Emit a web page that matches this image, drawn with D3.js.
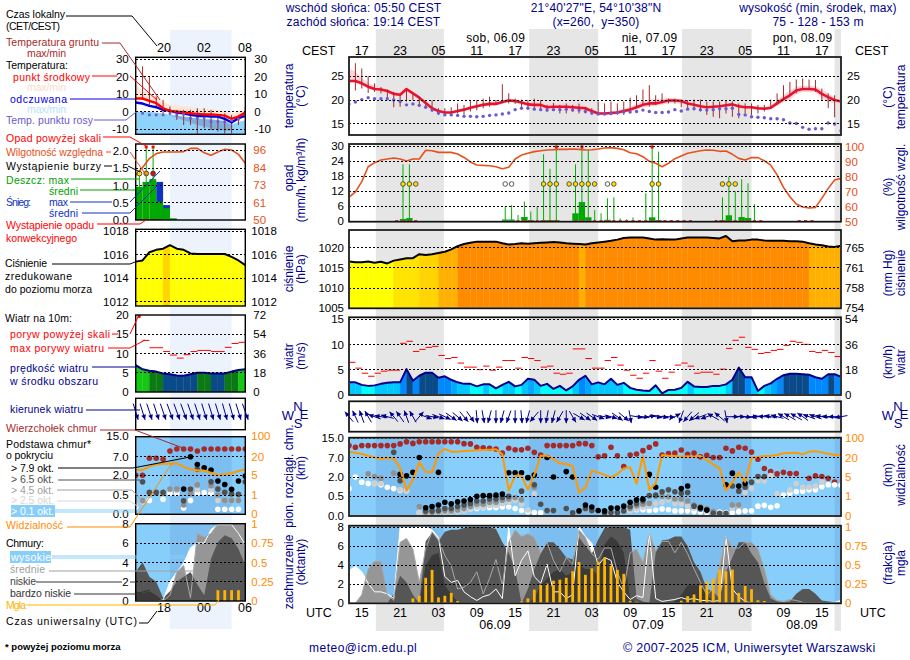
<!DOCTYPE html>
<html>
<head>
<meta charset="utf-8">
<script src="https://cdn.jsdelivr.net/npm/d3@7"></script>
<style>
  body { margin: 0; background: #fff; }
  text { font-family: "Liberation Sans", Arial, sans-serif; }
  .tick text { font-size: 11.5px; }
</style>
</head>
<body>
<script>
// hours counted from 05.09 15 UTC
var hours = d3.range(-2, 76)
var miniHours = d3.range(-1, 16)

var localTicks = ["17","23","05","11","17","23","05","11","17","23","05","11","17"]
var utcTicks = ["15","21","03","09","15","21","03","09","15","21","03","09","15"]
var nightStart = [2.2, 26.2, 50.1, 74]
var nightEnd = [12.85, 37, 61, 75]

// --- temperature
var tempMid = [24,24,23.5,22.8,22.3,22.2,21.9,21.3,21.1,22.3,
  21.4,20.5,19.4,18.3,17.7,17.4,17.4,17.7,18,18.4,
  18.7,19,19.2,19.2,19.6,19.9,19.8,19.5,19.1,19,
  19,18.5,18.6,18.6,18.6,18.5,18.4,18.3,17.7,17.2,
  17.2,17.3,17.4,17.7,18,18.5,19,19.3,19.3,19.6,
  19.9,19.9,19.8,19.3,19,18.7,18.5,18.6,18.7,18.9,
  19.1,18.7,18.5,18.5,18.3,18.2,18.4,19.3,20.2,21,
  22,22.3,22.3,22.2,21.3,20.6,20,19.7]
var tempHigh = [26.6,25.9,24.6,23.6,23.1,22.8,22.3,21.8,21.5,22.7,
  21.7,20.8,19.7,18.6,17.9,17.6,17.6,17.9,18.3,18.7,
  19,19.4,19.6,19.6,20,20.3,20.2,19.9,19.6,19.6,
  19.6,19.2,19.3,19.4,19.4,19.3,19.2,19,18.2,17.5,
  17.5,17.6,17.8,18.2,18.5,19.2,19.8,20.1,20.2,20.3,
  20.5,20.4,20.2,19.7,19.3,19,18.8,18.9,19,19.2,
  19.4,19,18.8,18.7,18.5,18.5,18.8,20,21.1,22,
  22.8,23,23,22.9,22.2,21.4,20.6,20.1]
var tempLow = [23.8,23.6,23.1,22.4,22,21.9,21.6,21,20.8,21.8,
  21.1,20.2,19.1,18,17.4,17.1,17.1,17.4,17.7,18.1,
  18.4,18.7,18.9,18.9,19.3,19.6,19.4,19.1,18.6,18.4,
  18.3,17.9,17.9,17.8,17.8,17.8,17.7,17.5,17.2,16.9,
  16.9,17,17.1,17.4,17.6,18,18.4,18.7,18.7,19,
  19.3,19.3,19.3,18.9,18.6,18.3,18.1,18.2,18.3,18.5,
  18.7,18.3,18.1,18.1,18,17.9,18,18.8,19.5,20,
  21.2,21.7,21.7,21.6,20.4,19.6,19.4,19.2]
var soilHigh = [null,27.7,26.6,25,23.5,22.7,22.2,21.7,21,22.1,
  21.2,20.7,20,19.9,18.3,18.3,18.5,19.3,19,19.9,
  20,20.3,20.7,20,23.3,21.4,20.3,20.1,20,20.3,
  20,19,19.4,19,19.3,19,19.3,18.6,18.3,19.7,
  19.3,19.7,19.3,19.7,20.5,21,22.2,23.1,21,21.4,
  20.3,20.3,20.1,20,20.1,20.1,19.7,19.7,19.7,20,
  19.7,19.3,19.3,19.3,19,19,20.1,21.4,23.1,23.8,
  24.3,24.5,24.3,24.2,22.4,21.4,21,20.7]
var soilLow = [null,22,22.4,21.5,21.7,21.4,20,18.5,18.6,19.7,
  20,18.6,18.3,17.6,16.9,16.9,16.9,17.2,16.9,17.6,
  17.9,18.3,18.6,19.3,19.3,19.3,19.2,18.6,18.3,18.3,
  18.3,17.6,18,17.2,17.2,17.6,17.2,17.2,16.9,16.9,
  16.9,16.9,16.9,16.9,17.9,18.3,19,18.6,19,19.3,
  19.3,19.3,18.5,18.3,17.9,17.6,16.9,16.5,16.2,17.2,
  16.5,16.2,17.2,16.9,17.2,17.6,18.3,19,20,21,
  21.4,22.1,22.1,21.7,20,18.3,16.4,20]
var dewPoint = [19.2,19.6,20.1,20.5,20.3,20.3,20.3,20,19.7,19,
  19.2,18.9,18.5,17.9,17.3,16.9,16.9,16.8,16.6,16.6,
  16.5,16.6,16.8,16.9,17.1,17.3,18,18.3,18.3,18.1,
  18,17.9,18,18,18.1,17.9,17.9,17.6,17.3,17.1,
  17.1,17.2,17.4,17.5,17.5,17.6,17.9,17.6,17.4,17.4,
  17.5,18,17.7,18.1,18.2,18,17.9,18,18.2,18.2,
  18.3,17,16.9,16.5,16.4,16.3,16.1,16.1,15.9,15.2,
  15.1,14.3,13.9,14,14,15.2,15,13.6]

// --- precipitation
var humidity = [66.3,70,76.8,86.8,89.5,91.3,92,92.6,92,90.6,
  92,92,97.8,97.5,96.4,96.4,96.4,95.3,93,90,
  88,87.7,87.5,86.8,85.5,86.4,92,94.6,95.8,96.9,
  97.5,98,98.2,98.4,98.4,98.7,98.4,98,98.2,98.7,
  99.3,99.6,99.1,98.2,96.2,95.5,93.5,90.4,89.1,86.8,
  89.1,92.2,94,95.8,96.7,97.5,98,97.8,97.1,97.3,
  95.1,92.4,91.3,92.9,92.9,90.8,87.9,81.3,73,66.7,
  61.8,59.8,59.2,59.6,65.6,72.3,77.9,79]
var rainMaxHours = [6,7,22,23,24,25,26,27,28,29,33,35,36,37,38,39,40,41,42,44,46,56,57,58,59,60,61]
var rainMax = [22.8,22.8,5.9,6.5,2.5,7.9,3.9,5.9,26.8,21,22.8,28.5,4.5,3.2,9.2,9.6,1.2,0.8,1.6,11.2,27.9,9.6,17.9,11.9,16.8,15.2,6.9]
var rainMeanHours = [6,7,22,23,25,26,28,29,30,33,34,35,38,45,46,56,57,59,60]
var rainMean = [0.9,1.3,0.7,0.7,1.7,0.5,0.5,0.5,0.5,3.2,7.7,1.6,0.6,1.6,0.5,0.5,2.4,1.7,1.3]
var rainOverHours = [30, 34, 45]
var convectiveHours = [5,6,7,8,24,25,26,27,28,29,30,33,34,35,36,37,38,39,40,41,42,43,44,45,46,47,48,49,50,51,55,56,57,58,59,60,61,62,68,69,70]
var stormHours = [6,7,8,28,29,30,32,33,34,35,36,39,45,46,56,57,58]
var stormWeakHours = [22,23,38]

// --- pressure
var pressure = [1016.6,1016.4,1016.4,1016.6,1016.3,1016.5,1016.1,1016.8,1017.1,1017.4,
  1017.4,1018.4,1018.2,1018.4,1018.7,1019,1019.6,1020.4,1020.9,1021.2,
  1021.5,1021.5,1021.5,1021.5,1021.1,1020.8,1020.9,1021.1,1021,1021.1,
  1021.2,1021.3,1021.4,1021.3,1021.1,1021,1020.9,1020.8,1021.1,1021.3,
  1021.5,1021.7,1022,1022.4,1022.5,1022.5,1022.5,1022.3,1022,1022.1,
  1022,1022,1022.3,1022.5,1022.5,1022.5,1022.5,1022.4,1022.3,1022.9,
  1021.6,1021.8,1021.8,1022,1022,1021.8,1021.7,1021.7,1021.7,1021.6,
  1021.6,1021.5,1021.1,1020.8,1020.6,1020.3,1020.2,1020.5]
var pressureClass = [0,0,0,0,0,0,0,1,1,1, 1,2,2,2,3,3,3,4,4,4,
  4,4,4,4,4,4,4,4,4,4, 4,4,4,4,4,4,3,4,4,4,
  4,4,4,4,4,4,4,4,4,4, 4,4,4,4,4,4,4,4,4,4,
  4,4,4,4,4,4,4,4,4,4, 4,4,3,3,3,3,3]

// --- wind
var windSpeed = [2.5,2.5,2,1.8,1.9,2.2,2.4,2.5,2.5,5.1,
  2.8,3.8,4.4,4.4,3.4,3.7,3,2.5,2.2,2.2,
  1.7,2.1,2.1,1.3,2,2.6,1.7,2,3.2,3,
  1.8,2.2,1.2,1.8,0.9,1.7,3,3.8,2.1,2.5,
  2.1,3.2,2,2.4,1.4,1.05,0.9,0.8,1.9,0.3,
  1,1.05,1.4,2.6,1.7,1.6,1.6,1.8,1.8,2.1,
  3,5.4,3.5,3.5,0.8,1.8,2.3,3.2,3.9,4.2,
  4.2,4.1,4,3.5,3.2,4.1,4.1,3.6]
var gusts = [6.45,5.3,4.3,3.7,4.3,4.7,4.9,4.9,10.2,10.6,
  8.6,9,9.4,9.6,7.8,7.2,7.4,6.3,5.5,5.5,
  5,5.7,4.9,5.5,6.8,6.8,5.3,7.4,7.2,6.8,
  5.5,5.7,4.3,4.1,4.3,9.1,9.1,7.2,5.3,5.3,
  6.8,7.4,5.9,4.9,3.9,3.3,4.3,6.8,4.7,3.3,
  4.5,5.9,6.3,5.7,4.3,4.5,4.5,4.1,5.1,9.2,
  10.8,11.4,9.4,9,8.2,8.4,8.8,9,9.8,10.6,
  10.4,10,8.6,8.4,8.8,8.4,7.6]
var windBearing = [320,335,340,330,290,280,285,320,325,340,
  330,40,110,100,110,115,125,130,140,145,
  175,170,195,180,195,200,180,175,195,220,
  180,190,195,210,180,150,120,125,125,110,
  100,105,125,130,170,100,95,80,100,100,
  95,60,200,220,230,250,250,300,310,170,
  90,90,95,85,265,275,280,285,300,300,
  300,305,290,290,280,275,270,260]

// --- cloud base and tops, km
var topHours = d3.range(-2, 75)
var topKm = [12,11.3,12,12,12,12,12,12,12.7,13.6,
  12.9,13.6,13.6,13.6,13.6,13.6,13.6,13.6,12.8,12.7,
  11.3,11.1,10.9,10.6,8.9,10.9,10.3,10.3,10.9,9.2,
  8.1,12,12,12,12,12,12.8,12.8,12,7.4,
  7.8,11.3,7.8,4.7,8.1,8.5,9.9,11.3,12.7,8.1,
  8.7,8.9,10.2,8.4,8.9,7.4,8,7.1,7.1,10.9,
  9.8,11.3,10.9,9.3,6.6,4.2,3.4,2.8,3.2,2.9,
  2.9,null,1.9,2.3,2.1,1.9,1.6]
var blackHours = [6,7,8,9,10,11,12,12,13,14,15,16,17,18,19,20,21,22,23,24,25,26,27,29,30,32,33,34,35,36,37,38,39,40,41,42,43,44,45,46,50,51,53,54,57,58,59,60]
var blackKm = [2.7,2.3,3.2,7.1,0.21,0.24,3.2,0.28,0.35,0.31,0.36,0.38,0.42,0.5,0.55,0.55,0.6,0.68,3.1,3.1,3.1,1.95,2.5,7.1,2,3.4,2,0.13,0.28,0.23,0.14,0.13,0.2,0.2,0.25,0.35,0.41,0.43,2.7,1.2,1.1,1.3,0.21,0.15,1.4,3,1.3,1.5]
var darkHours = [5,6,10,11,12,13,14,15,16,17,18,19,20,21,22,23,25,27,28,29,30,32,33,35,36,38,39,40,41,42,43,44,45,46,47,48,49,50,51,52,53,54,55,56,57,58,59,60,61,62,63]
var darkKm = [9.2,1.7,0.13,0.13,0.14,0.19,0.19,0.24,0.28,0.32,0.38,0.38,0.43,0.43,0.47,0.5,0.9,1.4,0.3,0.14,0.14,0.19,0.08,0.19,0.14,0.07,0.09,0.09,0.13,0.24,0.32,0.38,0.55,0.6,0.85,1,0.85,0.73,0.8,0.25,0.18,0.15,0.07,0.07,0.07,1.3,0.9,1.2,1.6,2.1,2.1]
var grayHours = [1,2,3,5,6,9,10,11,12,13,14,15,16,17,18,19,20,21,22,23,24,25,27,42,43,44,45,46,47,48,49,50,51,52,53,54,55,58,59]
var grayKm = [2.8,2.1,1.9,3,2,0.24,0.09,0.09,0.11,0.13,0.13,0.15,0.19,0.24,0.3,0.3,0.35,0.35,0.4,0.43,0.47,0.41,1.2,0.19,0.26,0.3,0.32,0.5,0.5,0.49,0.43,0.43,0.38,0.28,0.24,0.18,0.11,0.28,0.28]
var lightHours = [1,2,3,6,7,9,10,11,12,13,14,15,16,17,18,19,20,21,22,23,24,25,26,27,42,43,44,45,46,47,48,49,50,51,52,53,54,58,59,60,61,62,63,64,65,67,68,69,70,71,72]
var lightKm = [2.5,1.5,1.5,1,0.95,0.09,0.05,0.07,0.08,0.1,0.1,0.11,0.13,0.18,0.22,0.22,0.27,0.27,0.32,0.35,0.4,0.3,0.15,0.7,0.13,0.18,0.22,0.25,0.32,0.35,0.41,0.32,0.3,0.25,0.2,0.17,0.12,0.2,0.25,0.8,1.1,1.7,1.7,2.4,0.7,1,1.5,1.2,1.2,1.3,1.6]
var whiteHours = [-2,-1,0,1,2,3,4,5,6,7,9,10,11,12,13,14,15,16,17,18,19,20,21,22,23,24,25,26,27,28,42,43,44,45,46,47,48,49,50,51,52,53,54,55,56,57,58,59,60,61,62,63,64,65,66,67,68,69,70,71,72,73,74,75]
var whiteKm = [1.1,2,1.6,1.5,1.5,1.4,1.2,1.1,0.95,0.93,0.08,0.07,0.07,0.09,0.11,0.13,0.14,0.18,0.18,0.19,0.21,0.21,0.21,0.23,0.23,0.19,0.14,0.11,0.09,0.08,0.15,0.16,0.16,0.14,0.15,0.18,0.16,0.13,0.13,0.13,0.11,0.1,0.09,0.09,0.1,0.09,0.09,0.11,0.13,0.13,0.25,0.27,0.22,0.26,0.6,0.73,0.86,0.9,1,1,1.25,1.4,1.4,1.35]
var visibility = [44.8,40.7,35,28,21.4,19,20,19.5,11.7,2.2,
  4.4,16.4,9.1,8.6,38,55.9,44.8,44.8,47.6,49,
  50.3,51.7,53.1,54.5,33.8,2.2,6,6,2.4,6.6,
  28,28,19,15.6,15.1,13.5,1.8,2.8,9.9,8.6,
  6.6,4.9,7.3,11.7,12.5,3.6,28,2.3,3.7,31,
  28,26.9,24,25.5,24,26.9,18.2,14.8,11.7,2.2,
  4,8.6,4,20,22.8,26.9,28,31,38,39.3,
  40.7,33.8,44.8,46.2,42,36.5,31,31]

// --- cloud cover, oktas
var coverHigh = [3.4,3.9,3.3,2.1,1.2,1.2,1,0.5,7.9,7.9,
  7.9,8,8,7.7,6.9,2.8,2.2,2.4,1.2,0.7,
  0.3,0.7,0.9,1.5,0.5,8,2.9,4.5,5.5,2.8,
  2.1,4.1,1.2,1.2,0.5,0.9,8,7,6.3,4,
  4.8,4.5,2.2,1.2,0.4,0.8,0.6,7.4,0.5,0.2,
  0.3,0.4,0.6,0.4,0.5,0.3,0.3,0.2,0.3,7,
  1.5,0.7,0.2,0,0,0,0,0,0,0,
  0,0,0,0,0,0,0.1,0.3]
var coverMedium = [0,0,0.9,3.6,4.4,4.4,0.9,0.3,6.4,6.8,
  5.7,2.2,5.7,7.5,6.7,5,3.9,1.5,1.7,2.2,
  3.3,1,2.6,4.6,1.9,6.4,7.7,7,7.3,6.9,
  5.3,6.4,4.5,3.3,4.8,4.1,7.7,6.9,5.2,4.6,
  5.8,5.8,3.3,1.5,5.3,5.7,4.3,7.4,5.5,6.5,
  6.5,5.3,6.4,5.2,3.6,2.2,0.9,1.5,4,7,
  5.8,5.8,6.4,6.4,5.7,3.6,0.9,0.3,0.2,0.4,
  0.3,0.1,0,0,0,0,0,0.1]
var coverLow = [0,0,0,0,0,0,0,1,2.9,2.2,
  0.9,0,6.5,7.4,6.5,7.5,7.7,7.7,7.9,8,
  8,8,8,7.8,6.4,5.3,3.6,0,1.5,3.6,
  5.2,6.4,6.4,5.7,4.8,4.6,6.9,6,5.2,6.7,
  7.9,8,8,8,7.7,0.5,0.2,0,5.3,6.6,
  6.7,7,7,6,4.3,3.3,1.5,1.2,0.5,3.3,
  4.8,6.4,6.4,5.2,4.3,2.1,0.5,0.2,0.1,0.2,
  1,1.5,1.5,1,0.3,0.2,0.1,0.1]
var coverVeryLow = [0,0,0,0,0,0,0,0,0,0,
  0,0,4,5,5.3,1.9,0.9,0.2,0,0,
  0,0,0,0,0,0,0,0,0,0.5,
  1.9,2.6,3.3,3.6,2.9,3.3,4,3.6,3.6,2.9,
  6.2,7,6.5,5.3,0.5,0,0,0,0,0,
  0,0.2,0.9,1.9,1.9,1.9,0.9,0.2,0,0,
  0,0,0,0,0,0,0,0,0,0,
  0,0,0,0,0,0,0,0]
var fogHours = [8,9,10,11,12,13,14,15,25,26,27,28,29,30,31,32,33,34,35,36,37,38,39,40,41,42,43,50,51,52,53,54,55,56,57,58,59,60,61,62,63]
var fog = [0.064,0.099,0.335,0.438,0.077,0.099,0.137,0.03,0.026,0.064,0.18,0.24,0.258,0.296,0.309,0.335,0.42,0.54,0.373,0.459,0.545,0.6,0.515,0.438,0.386,0.034,0.02,0.034,0.094,0.116,0.236,0.288,0.322,0.442,0.42,0.442,0.137,0.227,0.185,0.04,0.03]

// --- small panel (first hours)
var miniTemp = [7.5,7.5,6.2,4.8,1.9,0.4,0,-0.4,-1,-1.3,-1.7,-1.7,-1.9,-2.3,-4.2,-2.9,-0.6]
var miniTempHigh = [15,12,10.2,8.7,5.8,3.8,3.7,2.9,2.9,1.9,1.9,1.3,1,0.6,-1,0,1]
var miniFelt = [5.2,4.6,3.3,2.5,1,0.6,-0.6,-1,-1.9,-2.5,-2.5,-2.9,-2.9,-4.2,-6.3,-3.8,-2.5]
var miniFeltTop = [0,0,0,-0.5,-1,-2,-2.5,-3,-3.5,-4,-4.5,-4.5,-5,-5.5,-7.5,-6,-5]
var miniFeltBottom = [-14,-14,-14,-14,-14,-14,-14,-14,-14,-14,-14,-14,-14,-14,-14,-14,-14]
var wedgeHours = [4,5,6,7,8,9,10,11,12,13]
var wedgeTop = [-2,-2.5,-3,-3.5,-4,-4.5,-4.5,-5,-5.5,-7.5]
var wedgeBottom = [-2.2,-3.5,-5,-6.3,-7.7,-8.5,-9.6,-10.6,-11,-11]
var miniSoilHigh = [null,26,19.8,8.7,6.7,2.9,1,1,1,1.9,1.9,1,-1.9,-1,-1.9,-1.9,2.9]
var miniSoilLow = [null,6.7,3.8,1.9,-1,-1.9,-4.8,-7.7,-7.7,-13.5,-9.6,-10.6,-11.5,-12.5,-12.5,-7.7,-3.8]
var miniDew = [null,-1,-1.9,-1.9,-1.9,-1,-1.9,-1.5,-3.8,-3.8,-3.8,-5.8,-5.8,-5.8,-5.2,-4.4,-1.9]
var miniHumidity = [79.4,84.3,90.3,93.6,94.7,94.7,94.7,94.9,97.1,97.1,94.2,92.5,94.7,96.5,96,93.1,87.2]
var miniRainHours = [-1,0,1,2,3,4]
var miniRainMean = [0.96,1.1,1.18,0.53,0.34,0.05]
var miniSnowHours = [2,3]
var miniSnowMean = [1.1,0.43]
var miniRainMaxHours = [-1,0,1]
var miniRainMax = [1.35,2.1,2.1]
var miniOverHours = [0,1]
var miniStormColors = ["#ffe000","#e8a000","#d81010"]
var miniConvective = [-1,0,1,2]
var miniPressure = [1015.4,1015.5,1016.2,1016.4,1016.5,1016.8,1016.5,1016.4,1016.1,1016.05,1016.05,1016.05,1016.05,1016.05,1015.8,1015.5,1015.1]
var miniPressureClass = [0,0,0,0,1,0,0,0,0,0,0,0,0,0,0,0]
var miniWind = [7,5.9,5.5,5.3,4.8,4.6,4.3,4.2,4.6,5,5,4.8,4.8,4.8,5.3,5.7,5.9]
var miniGusts = [null,13.4,11.5,11.5,10.5,9.6,8.8,9.7,10.5,10.8,10.8,10.5,10.5,11.6,12.6,12.9]
var miniBearing = [163,163,162,162,161,160,160,160,161,162,163,163,163,164,164,163,160]
var miniTopHours = d3.range(-1, 16)
var miniTopKm = [2,2,6.6,6.6,6.3,9.2,10,10,10,9.2,10,10,10,10,10,10,10]
var miniBlackHours = [6,7,8,9,10,11,12,13,14,15]
var miniBlackKm = [0.96,7,4.9,4,3.4,1.57,1.3,0.93,1.57,1.95]
var miniDarkHours = [0,1,2,3,6,7,8,10,11,12,13,14,15]
var miniDarkKm = [1.5,0.7,0.7,0.7,0.35,0.96,3.6,1.5,0.96,0.7,0.58,0.55,1.5]
var miniGrayHours = [0,1,2,3,4,5,6,7,8,10,11,12,13,14]
var miniGrayKm = [0.36,0.63,0.63,0.63,0.96,0.96,0.24,0.63,1.27,1.2,0.5,0.36,0.36,0.36]
var miniLightHours = [-1,0,4,5,7,8,10,11,12,13,14]
var miniLightKm = [0.24,0.32,0.9,0.85,1,0.9,0.9,0.36,0.36,0.36,0.36]
var miniWhiteHours = [-1,0,1,3,4,5,6,7,8,9,10,11,12,13,14]
var miniWhiteKm = [0.18,0.36,0.36,0.39,0.63,0.63,0.16,0.36,0.63,0.68,0.63,0.13,0.13,0.13,0.13]
var miniVisibility = [9.3,9.3,12,13.8,14.4,14.4,14.6,12,9.8,8.8,8.8,7.1,5.3,5.8,6.6,8.5,10]
var miniHigh = [0,0,0,0,0.1,2,3,3.9,5.5,6,6,7.4,7.9,7.9,7.9,7,5.8]
var miniMedium = [0,0,0,0,0,0.6,3,3.7,0.3,7,6.6,7,8,8,8,8,8]
var miniLow = [3,4,2.5,2,0.3,1,2,2.5,3,1.7,0.6,4.4,6.1,6.8,6.5,5.4,3.7]
var miniVeryLow = [1,0.8,1,0.6,0,0,0,0,0,0,0,0,0,0,0,0,0]
var miniFogHours = [11,12,13,14]
var miniFog = [0.14,0.14,0.14,0.14]

var navy = "#00008b"
var svg = d3.select("body").append("svg").attr("width", 910).attr("height", 660)

var xMain = d3.scaleLinear().domain([-2, 75]).range([349, 841])
var xMini = d3.scaleLinear().domain([-1, 15]).range([135.7, 245.3])
var mainGridX = d3.range(0, 75, 3)
var miniGridX = [0, 3, 6, 9, 12]

var nights = nightStart.map(function (d, i) { return [d, nightEnd[i]] })
var miniNight = [[4, 13]]

// background bands
svg.selectAll(".night").data(nights).enter().append("rect")
  .attr("x", function (d) { return xMain(d[0]) })
  .attr("width", function (d) { return xMain(d[1]) - xMain(d[0]) })
  .attr("y", 29).attr("height", 602).attr("fill", "#e6e6e6")
svg.selectAll(".miniNight").data(miniNight).enter().append("rect")
  .attr("x", function (d) { return xMini(d[0]) })
  .attr("width", function (d) { return xMini(d[1]) - xMini(d[0]) })
  .attr("y", 30).attr("height", 599).attr("fill", "#ecf3fd")

var clipId = 0
function panel(x, top, bottom) {
  var id = "clip" + (clipId++)
  svg.append("clipPath").attr("id", id).append("rect")
    .attr("x", x.range()[0]).attr("width", x.range()[1] - x.range()[0])
    .attr("y", top).attr("height", bottom - top)
  return { g: svg.append("g").attr("clip-path", "url(#" + id + ")"), x: x, top: top, bottom: bottom }
}

function finish(p, gridX, y, ticks, big) {
  var g = svg.append("g").attr("fill", "none").attr("stroke", "#000")
    .attr("stroke-width", 1).attr("stroke-dasharray", "2,2").attr("shape-rendering", "crispEdges")
  g.selectAll(".v").data(gridX).enter().append("line")
    .attr("x1", p.x).attr("x2", p.x).attr("y1", p.top).attr("y2", p.bottom)
  if (y) {
    g.selectAll(".h").data(ticks).enter().append("line")
      .attr("x1", p.x.range()[0]).attr("x2", p.x.range()[1])
      .attr("y1", y).attr("y2", y)
  }
  var r = p.x.range()
  if (big) {
    svg.append("rect").attr("x", r[0]).attr("y", p.top).attr("width", r[1] - r[0]).attr("height", p.bottom - p.top)
      .attr("fill", "none").attr("stroke", "#666").attr("stroke-width", 2)
  }
  svg.append("rect").attr("x", r[0]).attr("y", p.top).attr("width", r[1] - r[0]).attr("height", p.bottom - p.top)
    .attr("fill", "none").attr("stroke", "#000").attr("stroke-width", big ? 1 : 1.4)
}

function axis(kind, xPos, y, values, labels, color, pad) {
  var a = (kind == "left" ? d3.axisLeft(y) : d3.axisRight(y))
    .tickValues(values).tickSize(0).tickPadding(pad)
    .tickFormat(function (d, i) { return labels ? labels[i] : d })
  var g = svg.append("g").attr("transform", "translate(" + xPos + ",0)").call(a)
  g.select(".domain").remove()
  g.selectAll("text").attr("fill", color || "#000")
}

function nightOverlay(p, list, x) {
  p.g.selectAll(".ov").data(list).enter().append("rect")
    .attr("x", function (d) { return x(d[0]) }).attr("width", function (d) { return x(d[1]) - x(d[0]) })
    .attr("y", p.top).attr("height", p.bottom - p.top)
    .attr("fill", "#3a5fb0").attr("opacity", 0.14)
}

function zip(hs, vals) { return hs.map(function (h, i) { return { h: h, v: vals[i] } }) }

function band(p, x, y, hs, hi, lo, color) {
  p.g.append("path").datum(hs.map(function (h, i) { return { h: h, a: hi[i], b: lo[i] } }))
    .attr("fill", color)
    .attr("d", d3.area().x(function (d) { return x(d.h) }).y0(function (d) { return y(d.b) }).y1(function (d) { return y(d.a) }))
}

function line(p, x, y, hs, vals, color, width) {
  p.g.append("path").datum(zip(hs, vals))
    .attr("fill", "none").attr("stroke", color).attr("stroke-width", width).attr("stroke-linejoin", "round")
    .attr("d", d3.line().defined(function (d) { return d.v !== null }).x(function (d) { return x(d.h) }).y(function (d) { return y(d.v) }))
}

function whiskers(p, x, y, hs, hi, lo, color) {
  p.g.selectAll(".w").data(hs.map(function (h, i) { return { h: h, a: hi[i], b: lo[i] } }).filter(function (d) { return d.a !== null }))
    .enter().append("line")
    .attr("x1", function (d) { return x(d.h) }).attr("x2", function (d) { return x(d.h) })
    .attr("y1", function (d) { return y(d.a) }).attr("y2", function (d) { return y(d.b) })
    .attr("stroke", color).attr("stroke-width", 1)
}

function columns(p, x, y, hs, vals, fillFor) {
  var area = d3.area().x(function (d) { return x(d.h) }).y0(p.bottom).y1(function (d) { return y(d.v) })
  var data = zip(hs, vals)
  d3.range(data.length - 1).forEach(function (i) {
    p.g.append("path").datum([data[i], data[i + 1]])
      .attr("fill", fillFor(i, (vals[i] + vals[i + 1]) / 2))
      .attr("stroke", fillFor(i, (vals[i] + vals[i + 1]) / 2)).attr("stroke-width", 0.3)
      .attr("d", area)
  })
}

function gustSegments(p, x, y, hs, vals) {
  p.g.selectAll(".g").data(zip(hs, vals).filter(function (d) { return d.v !== null })).enter().append("line")
    .attr("x1", function (d) { return x(d.h) }).attr("x2", function (d) { return x(d.h + 1) })
    .attr("y1", function (d) { return y(d.v) }).attr("y2", function (d) { return y(d.v) })
    .attr("stroke", "#ff0000").attr("stroke-width", 1)
}

function dots(p, x, y, hs, vals, color, r) {
  p.g.selectAll(".d").data(zip(hs, vals).filter(function (d) { return d.v !== null })).enter().append("circle")
    .attr("cx", function (d) { return x(d.h) }).attr("cy", function (d) { return y(d.v) })
    .attr("r", r).attr("fill", color)
}

function arrows(p, x, yc, hs, bearings, len) {
  var pts = zip(hs, bearings)
  pts.forEach(function (d) {
    var a = d.v * Math.PI / 180, sx = Math.sin(a), sy = -Math.cos(a)
    var hx = x(d.h) + sx * len / 2, hy = yc + sy * len / 2
    var tx = x(d.h) - sx * len / 2, ty = yc - sy * len / 2
    p.g.append("line").attr("x1", tx).attr("y1", ty).attr("x2", hx).attr("y2", hy)
      .attr("stroke", navy).attr("stroke-width", 1)
    var hs2 = 5, w = 2.4
    var bx = hx - sx * hs2, by = hy - sy * hs2
    p.g.append("polygon")
      .attr("points", [[hx, hy], [bx - sy * w, by + sx * w], [bx + sy * w, by - sx * w]].join(" "))
      .attr("fill", navy)
  })
}

function cloudStack(p, x, y, hs, h, m, l, v, zero) {
  var area = function (vals, color) { band(p, x, y, hs, vals, hs.map(function () { return zero }), color) }
  area(h, "#ffffff")
  area(m, "#969696")
  area(l, "#565656")
  area(v, "#3a3a3a")
  line(p, x, y, hs, h, "#ffffff", 1)
  line(p, x, y, hs, m, "#a8a8a8", 1)
}

// ===== main temperature
var yTemp = d3.scaleLinear().domain([12.7, 29]).range([135, 57])
var p1 = panel(xMain, 57, 135)
band(p1, xMain, yTemp, hours, tempHigh, tempLow, "#fbd5da")
line(p1, xMain, yTemp, hours, tempMid, "#ee1030", 2.6)
whiskers(p1, xMain, yTemp, hours, soilHigh, soilLow, "#a52a2a")
dots(p1, xMain, yTemp, hours, dewPoint, "#6a5acd", 1.7)
finish(p1, mainGridX.map(xMain), yTemp, [15, 20, 25], true)
axis("left", 349, yTemp, [15, 20, 25], null, "#000", 5)
axis("right", 841, yTemp, [15, 20, 25], null, "#000", 6)

// ===== main precipitation
var yRain = d3.scaleLinear().domain([0, 30]).range([221.3, 146.3])
var yHum = d3.scaleLinear().domain([50, 100]).range([221.7, 147])
var p2 = panel(xMain, 144, 221.7)
p2.g.selectAll(".m").data(zip(rainMeanHours, rainMean)).enter().append("rect")
  .attr("x", function (d) { return xMain(d.h - 0.05) }).attr("width", xMain(1) - xMain(0))
  .attr("y", function (d) { return yRain(d.v) }).attr("height", function (d) { return yRain(0) - yRain(d.v) })
  .attr("fill", "#00a800")
var rainSpikes = zip(rainMaxHours, rainMax).concat(rainOverHours.map(function (h) { return { h: h, v: 30.5 } }))
whiskers(p2, function (h) { return xMain(h + 0.45) }, yRain, rainSpikes.map(function (d) { return d.h }), rainSpikes.map(function (d) { return d.v }), rainSpikes.map(function () { return 0 }), "#00b000")
line(p2, xMain, yHum, hours, humidity, "#e8501a", 1.6)
p2.g.selectAll(".c").data(convectiveHours).enter().append("rect")
  .attr("x", function (h) { return xMain(h + 0.45) - 1.5 }).attr("y", 220).attr("width", 3).attr("height", 3).attr("fill", "#ee1010")
p2.g.selectAll(".o").data(rainOverHours).enter().append("rect")
  .attr("x", function (h) { return xMain(h + 0.45) - 1.5 }).attr("y", 145.5).attr("width", 3).attr("height", 3).attr("fill", "#ee1010")
p2.g.selectAll(".s").data(stormHours).enter().append("circle")
  .attr("cx", function (h) { return xMain(h + 0.45) }).attr("cy", 184).attr("r", 2.3)
  .attr("fill", "#ffe000").attr("stroke", "#333").attr("stroke-width", 0.8)
p2.g.selectAll(".sw").data(stormWeakHours).enter().append("circle")
  .attr("cx", function (h) { return xMain(h + 0.45) }).attr("cy", 184).attr("r", 2.3)
  .attr("fill", "#fff").attr("stroke", "#333").attr("stroke-width", 0.8)
finish(p2, mainGridX.map(xMain), yRain, [0, 6, 12, 18, 24, 30], true)
axis("left", 349, yRain, [0, 6, 12, 18, 24, 30], null, "#000", 5)
axis("right", 841, yHum, [50, 60, 70, 80, 90, 100], null, "#e8501a", 4)

// ===== main pressure
var pressureColors = ["#ffff00", "#ffe400", "#ffd400", "#ffb000", "#ff8c00"]
var yPress = d3.scaleLinear().domain([1005, 1020]).range([308.3, 247.7])
var p3 = panel(xMain, 230, 308.3)
columns(p3, xMain, yPress, hours, pressure, function (i) { return pressureColors[pressureClass[i]] })
line(p3, xMain, yPress, hours, pressure, "#000", 2)
finish(p3, mainGridX.map(xMain), yPress, [1010, 1015, 1020], true)
axis("left", 349, yPress, [1005, 1010, 1015, 1020], null, "#000", 5)
axis("right", 841, yPress, [1005, 1010, 1015, 1020], ["754", "758", "761", "765"], "#000", 4)

// ===== main wind
var windColor = d3.scaleThreshold().domain([2.05, 2.7, 3.3, 3.9, 4.85, 5.6])
  .range(["#00ffff", "#00c8ff", "#00a8ff", "#0088ff", "#0a4a88", "#0c7a14", "#14c814"])
var yWind = d3.scaleLinear().domain([0, 15]).range([395, 319])
var p4 = panel(xMain, 317.3, 395)
columns(p4, xMain, yWind, hours, windSpeed, function (i, v) { return windColor(v) })
line(p4, xMain, yWind, hours, windSpeed, navy, 2)
gustSegments(p4, xMain, yWind, hours.slice(0, -1), gusts)
finish(p4, mainGridX.map(xMain), yWind, [5, 10, 15], true)
axis("left", 349, yWind, [0, 5, 10, 15], null, "#000", 5)
axis("right", 841, yWind, [0, 5, 10, 15], ["0", "18", "36", "54"], "#000", 4)

// ===== main wind direction
var p5 = panel(xMain, 401.3, 431.7)
finish(p5, mainGridX.map(xMain), null, [], true)
var p5a = panel(d3.scaleLinear().domain([-3, 76]).range([340, 850]), 396, 436)
arrows(p5a, xMain, 416.7, hours, windBearing, 13)

// ===== main cloud base
var yBase = d3.scaleLinear().domain([0, 0.5, 2, 7, 15]).range([516, 496.3, 477, 457.7, 438.3])
var yVis = d3.scaleLinear().domain([0, 1, 5, 20, 100]).range([516, 496.3, 477, 457.7, 438.3])
var p6 = panel(xMain, 437.7, 516)
p6.g.append("rect").attr("x", 349).attr("y", 437).attr("width", 492).attr("height", 80).attr("fill", "#87cefa")
nightOverlay(p6, nights, xMain)
dots(p6, xMain, yBase, topHours, topKm, "#a52a2a", 2.8)
dots(p6, xMain, yBase, whiteHours, whiteKm, "#ffffff", 2.8)
dots(p6, xMain, yBase, lightHours, lightKm, "#d0d0d0", 2.8)
dots(p6, xMain, yBase, grayHours, grayKm, "#909090", 2.8)
dots(p6, xMain, yBase, darkHours, darkKm, "#505050", 2.8)
dots(p6, xMain, yBase, blackHours, blackKm, "#000000", 2.8)
line(p6, xMain, yVis, hours, visibility, "#ff9900", 2)
finish(p6, mainGridX.map(xMain), yBase, [0.5, 2, 7, 15], true)
axis("left", 349, yBase, [0, 0.5, 2, 7, 15], ["0.0", "0.5", "2.0", "7.0", "15.0"], "#000", 5)
axis("right", 841, yVis, [0, 1, 5, 20, 100], null, "#ff8c00", 4)

// ===== main cloud cover
var yCover = d3.scaleLinear().domain([0, 8]).range([603.3, 527])
var yFog = d3.scaleLinear().domain([0, 1]).range([603.3, 527])
var p7 = panel(xMain, 525.7, 603.3)
p7.g.append("rect").attr("x", 349).attr("y", 525).attr("width", 492).attr("height", 79).attr("fill", "#87cefa")
nightOverlay(p7, nights, xMain)
cloudStack(p7, xMain, yCover, hours, coverHigh, coverMedium, coverLow, coverVeryLow, 0)
p7.g.selectAll(".f").data(zip(fogHours, fog)).enter().append("rect")
  .attr("x", function (d) { return xMain(d.h) - 1.4 }).attr("width", 2.8)
  .attr("y", function (d) { return yFog(d.v) }).attr("height", function (d) { return yFog(0) - yFog(d.v) })
  .attr("fill", "#ffb400")
finish(p7, mainGridX.map(xMain), yCover, [2, 4, 6, 8], true)
axis("left", 349, yCover, [0, 2, 4, 6, 8], null, "#000", 5)
axis("right", 841, yFog, [0, 0.25, 0.5, 0.75, 1], null, "#ff8c00", 4)

// ===== small temperature
var yTempM = d3.scaleLinear().domain([-10, 30]).range([129, 59.3])
var m1 = panel(xMini, 57.3, 134.3)
band(m1, xMini, yTempM, miniHours, miniTempHigh, miniTemp, "#fde5d8")
band(m1, xMini, yTempM, miniHours, miniFeltTop, miniFeltBottom, "#8fd2fb")
band(m1, xMini, yTempM, wedgeHours, wedgeTop, wedgeBottom, "#7ab0e0")
whiskers(m1, xMini, yTempM, miniHours, miniSoilHigh, miniSoilLow, "#a52a2a")
line(m1, xMini, yTempM, miniHours, miniFelt, "#0000e0", 2.4)
line(m1, xMini, yTempM, miniHours, miniTemp, "#ff0000", 2.4)
m1.g.selectAll(".d").data(zip(miniHours, miniDew).filter(function (d) { return d.v !== null })).enter().append("rect")
  .attr("x", function (d) { return xMini(d.h) - 1.3 }).attr("y", function (d) { return yTempM(d.v) - 1.3 })
  .attr("width", 2.6).attr("height", 2.6).attr("fill", "#6a5acd")
finish(m1, miniGridX.map(xMini), yTempM, [-10, 0, 10, 20, 30])
axis("left", 135.7, yTempM, [-10, 0, 10, 20, 30], null, "#000", 7)
axis("right", 245.3, yTempM, [-10, 0, 10, 20, 30], null, "#000", 9)

// ===== small precipitation
var yRainM = d3.scaleLinear().domain([0, 2]).range([220, 150.7])
var yHumM = d3.scaleLinear().domain([50, 61, 73, 84, 96]).range([220, 202.5, 185, 168, 150])
var m2 = panel(xMini, 144, 220)
m2.g.selectAll(".sn").data(zip(miniSnowHours, miniSnowMean)).enter().append("rect")
  .attr("x", function (d) { return xMini(d.h) }).attr("width", xMini(1) - xMini(0))
  .attr("y", function (d) { return yRainM(d.v) }).attr("height", function (d) { return yRainM(0) - yRainM(d.v) })
  .attr("fill", "#1030c8")
m2.g.selectAll(".ra").data(zip(miniRainHours, miniRainMean)).enter().append("rect")
  .attr("x", function (d) { return xMini(d.h) }).attr("width", xMini(1) - xMini(0))
  .attr("y", function (d) { return yRainM(d.v) }).attr("height", function (d) { return yRainM(0) - yRainM(d.v) })
  .attr("fill", "#00a800")
whiskers(m2, function (h) { return xMini(h + 0.54) }, yRainM, miniRainMaxHours, miniRainMax, miniRainMaxHours.map(function () { return 0 }), "#00b000")
line(m2, xMini, yHumM, miniHours, miniHumidity, "#e8501a", 1.6)
m2.g.selectAll(".c").data(miniConvective).enter().append("rect")
  .attr("x", function (h) { return xMini(h + 0.54) - 2 }).attr("y", 219).attr("width", 4).attr("height", 2).attr("fill", "#ee1010")
m2.g.selectAll(".o").data(miniOverHours).enter().append("rect")
  .attr("x", function (h) { return xMini(h + 0.54) - 1.5 }).attr("y", 145.5).attr("width", 3).attr("height", 3).attr("fill", "#ee1010")
m2.g.selectAll(".s").data(miniRainMaxHours).enter().append("circle")
  .attr("cx", function (h) { return xMini(h + 0.54) }).attr("cy", 173.5).attr("r", 2.4)
  .attr("fill", function (h, i) { return miniStormColors[i] }).attr("stroke", "#333").attr("stroke-width", 0.8)
finish(m2, miniGridX.map(xMini), yRainM, [0.5, 1, 1.5, 2])
axis("left", 135.7, yRainM, [0, 0.5, 1, 1.5, 2], ["0.0", "0.5", "1.0", "1.5", "2.0"], "#000", 7)
axis("right", 245.3, yHumM, [50, 61, 73, 84, 96], null, "#e8501a", 8)

// ===== small pressure
var yPressM = d3.scaleLinear().domain([1012, 1018]).range([301.7, 231])
var m3 = panel(xMini, 229.3, 306)
columns(m3, xMini, yPressM, miniHours, miniPressure, function (i) { return pressureColors[miniPressureClass[i] * 2] })
line(m3, xMini, yPressM, miniHours, miniPressure, "#000", 2)
finish(m3, miniGridX.map(xMini), yPressM, [1012, 1014, 1016, 1018])
axis("left", 135.7, yPressM, [1012, 1014, 1016, 1018], null, "#000", 7)
axis("right", 245.3, yPressM, [1012, 1014, 1016, 1018], null, "#000", 6)

// ===== small wind
var yWindM = d3.scaleLinear().domain([0, 20]).range([392, 315])
var m4 = panel(xMini, 315, 392)
columns(m4, xMini, yWindM, miniHours, miniWind, function (i, v) { return windColor(v) })
line(m4, xMini, yWindM, miniHours, miniWind, navy, 2)
gustSegments(m4, xMini, yWindM, miniHours.slice(0, -1), miniGusts)
m4.g.append("circle").attr("cx", xMini(-0.5)).attr("cy", 316.5).attr("r", 1.6).attr("fill", "#ff0000")
finish(m4, miniGridX.map(xMini), yWindM, [5, 10, 15])
axis("left", 135.7, yWindM, [0, 5, 10, 15, 20], null, "#000", 7)
axis("right", 245.3, yWindM, [0, 5, 10, 15, 20], ["0", "18", "36", "54", "72"], "#000", 8)

// ===== small wind direction
var m5 = panel(xMini, 398.3, 429.7)
finish(m5, miniGridX.map(xMini), null, [])
var m5a = panel(d3.scaleLinear().domain([-2, 16]).range([128, 252]), 395, 432)
arrows(m5a, xMini, 411.7, miniHours, miniBearing, 17)

// ===== small cloud base
var yBaseM = d3.scaleLinear().domain([0, 0.5, 2, 7, 15]).range([514.3, 495, 475.3, 456.7, 436])
var yVisM = d3.scaleLinear().domain([0, 1, 5, 20, 100]).range([514.3, 495, 475.3, 456.7, 436])
var m6 = panel(xMini, 436.7, 514.3)
m6.g.append("rect").attr("x", 135).attr("y", 436).attr("width", 112).attr("height", 80).attr("fill", "#87cefa")
nightOverlay(m6, miniNight, xMini)
dots(m6, xMini, yBaseM, miniTopHours, miniTopKm, "#a52a2a", 2.8)
dots(m6, xMini, yBaseM, miniWhiteHours, miniWhiteKm, "#ffffff", 2.8)
dots(m6, xMini, yBaseM, miniLightHours, miniLightKm, "#d0d0d0", 2.8)
dots(m6, xMini, yBaseM, miniGrayHours, miniGrayKm, "#909090", 2.8)
dots(m6, xMini, yBaseM, miniDarkHours, miniDarkKm, "#505050", 2.8)
dots(m6, xMini, yBaseM, miniBlackHours, miniBlackKm, "#000000", 2.8)
line(m6, xMini, yVisM, miniHours, miniVisibility, "#ff9900", 2)
finish(m6, miniGridX.map(xMini), yBaseM, [0.5, 2, 7])
axis("left", 135.7, yBaseM, [0, 0.5, 2, 7, 15], ["0.0", "0.5", "2.0", "7.0", "15.0"], "#000", 7)
axis("right", 245.3, yVisM, [0, 1, 5, 20, 100], null, "#ff8c00", 6)

// ===== small cloud cover
var yCoverM = d3.scaleLinear().domain([0, 8]).range([601, 523.7])
var yFogM = d3.scaleLinear().domain([0, 1]).range([601, 523.7])
var m7 = panel(xMini, 523.7, 601)
m7.g.append("rect").attr("x", 135).attr("y", 523).attr("width", 112).attr("height", 79).attr("fill", "#87cefa")
nightOverlay(m7, miniNight, xMini)
cloudStack(m7, xMini, yCoverM, miniHours, miniHigh, miniMedium, miniLow, miniVeryLow, 0)
m7.g.selectAll(".f").data(zip(miniFogHours, miniFog)).enter().append("rect")
  .attr("x", function (d) { return xMini(d.h) - 1.4 }).attr("width", 2.8)
  .attr("y", function (d) { return yFogM(d.v) }).attr("height", function (d) { return yFogM(0) - yFogM(d.v) })
  .attr("fill", "#ffb400")
finish(m7, miniGridX.map(xMini), yCoverM, [2, 4, 6])
axis("left", 135.7, yCoverM, [0, 2, 4, 6, 8], null, "#000", 7)
axis("right", 245.3, yFogM, [0, 0.25, 0.5, 0.75, 1], null, "#ff8c00", 6)

// ===== time labels
function label(x, y, s, color, size, anchor, extra) {
  var t = svg.append("text").attr("x", x).attr("y", y).text(s)
    .attr("fill", color || "#000").attr("font-size", size || 11).attr("text-anchor", anchor || "start")
  if (extra) t.attr("letter-spacing", extra)
  return t
}
function vlabel(x, y, s, size) {
  svg.append("text").attr("transform", "translate(" + x + "," + y + ") rotate(-90)")
    .attr("text-anchor", "middle").attr("fill", navy).attr("font-size", size || 12).text(s)
}

localTicks.forEach(function (s, i) { label(xMain(i * 6), 55, s, "#000", 12.5, "middle") })
utcTicks.forEach(function (s, i) { label(xMain(i * 6), 617, s, "#000", 12.5, "middle") })
label(302, 55, "CEST", "#000", 12.5); label(855, 55, "CEST", "#000", 12.5)
label(306, 617, "UTC", "#000", 12.5); label(860, 617, "UTC", "#000", 12.5)
label(495.7, 42, "sob, 06.09", "#000", 12, "middle", 0.3)
label(649.5, 42, "nie, 07.09", "#000", 12, "middle", 0.3)
label(802.5, 42, "pon, 08.09", "#000", 12, "middle", 0.3)
label(495, 629, "06.09", "#000", 12.5, "middle")
label(648, 629, "07.09", "#000", 12.5, "middle")
label(802, 629, "08.09", "#000", 12.5, "middle")
label(164, 52, "20", "#000", 12.5, "middle"); label(204, 52, "02", "#000", 12.5, "middle"); label(245, 52, "08", "#000", 12.5, "middle")
label(164, 612, "18", "#000", 12.5, "middle"); label(204, 612, "00", "#000", 12.5, "middle"); label(245, 612, "06", "#000", 12.5, "middle")

// header and footer
label(363.5, 12, "wschód słońca: 05:50 CEST", navy, 12, "middle", 0.2)
label(363.5, 26, "zachód słońca: 19:14 CEST", navy, 12, "middle", 0.2)
label(596, 12, "21°40'27\"E, 54°10'38\"N", navy, 12, "middle", 0.2)
label(596, 26, "(x=260,\u00a0 y=350)", navy, 12, "middle", 0.2)
label(818, 12, "wysokość (min, środek, max)", navy, 12, "middle", 0.1)
label(818, 26, "75 - 128 - 153 m", navy, 12, "middle", 0.2)
label(309, 652, "meteo@icm.edu.pl", navy, 12, "start", 0.5)
label(623, 652, "© 2007-2025 ICM, Uniwersytet Warszawski", navy, 12.5, "start", 0.3)
label(5, 650, "* powyżej poziomu morza", "#000", 9.5).attr("font-weight", "bold")

// vertical titles
vlabel(293, 96, "temperatura"); vlabel(305, 96, "(°C)")
vlabel(293, 178, "opad"); vlabel(305, 180, "(mm/h, kg/m³/h)")
vlabel(293, 269, "ciśnienie"); vlabel(305, 269, "(hPa)")
vlabel(293, 356, "wiatr"); vlabel(305, 356, "(m/s)")
vlabel(293, 476, "pion. rozciągł. chm."); vlabel(305, 468, "(km)")
vlabel(293, 572, "zachmurzenie"); vlabel(305, 562, "(oktanty)")
vlabel(892, 97, "(°C)"); vlabel(905, 97, "temperatura")
vlabel(892, 187, "(%)"); vlabel(905, 187, "wilgotność wzgl.")
vlabel(892, 273, "(mm Hg)"); vlabel(905, 273, "ciśnienie")
vlabel(892, 362, "(km/h)"); vlabel(905, 362, "wiatr")
vlabel(892, 475, "(km)"); vlabel(905, 475, "widzialność")
vlabel(892, 563, "(frakcja)"); vlabel(905, 563, "mgła")

// compass letters
function compass(cx) {
  label(cx - 10, 420, "W", navy, 13, "middle")
  label(cx, 411, "N", navy, 13, "middle")
  label(cx + 6, 419, "E", navy, 13, "middle")
  label(cx, 428, "S", navy, 13, "middle")
}
compass(298); compass(898)

// highlight boxes behind legend words
svg.append("rect").attr("x", 11).attr("y", 505).attr("width", 44).attr("height", 12).attr("fill", "#87cefa")
svg.append("rect").attr("x", 10).attr("y", 551).attr("width", 41).attr("height", 12).attr("fill", "#87cefa")

var legendText = [
  ["Czas lokalny", 6, 18, "#000", 59], ["(CET/CEST)", 6, 30, "#000", 54],
  ["Temperatura gruntu", 6, 46, "#a52a2a", 93], ["max/min", 27, 57, "#a52a2a", 39],
  ["Temperatura:", 6, 69, "#000", 62], ["punkt środkowy", 13, 81, "#ff0000", 77],
  ["max/min", 27, 91, "#f8dcc8", 39], ["odczuwana", 10, 103, "#0000e0", 57],
  ["max/min", 27, 113, "#b5e2f8", 39], ["Temp. punktu rosy", 6, 124, "#6a5acd", 87],
  ["Opad powyżej skali", 6, 142, "#ff0000", 95], ["Wilgotność względna", 6, 156, "#e8501a", 97],
  ["Wystąpienie burzy", 6, 170, "#000", 95], ["Deszcz: max", 6, 184, "#00a000", 63],
  ["średni", 49, 195, "#00a000", 29], ["Śnieg:", 6, 206, "#1030c8", 25], ["max", 49, 206, "#1030c8", 19],
  ["średni", 49, 217, "#1030c8", 29], ["Wystąpienie opadu", 6, 229, "#ff0000", 88], ["konwekcyjnego", 6, 242, "#ff0000", 71],
  ["Ciśnienie", 5, 267, "#000", 42], ["zredukowane", 5, 280, "#000", 67], ["do poziomu morza", 5, 293, "#000", 87],
  ["Wiatr na 10m:", 5, 322, "#000", 67], ["poryw powyżej skali", 10, 338, "#ff0000", 100],
  ["max porywy wiatru", 10, 352, "#ff0000", 94], ["prędkość wiatru", 10, 372, navy, 78],
  ["w środku obszaru", 10, 385, navy, 88], ["kierunek wiatru", 10, 413, navy, 73],
  ["Wierzchołek chmur", 6, 432, "#a52a2a", 91], ["Podstawa chmur*", 6, 448, "#000", 85], ["o pokryciu", 6, 459, "#000", 47],
  ["> 7.9 okt.", 11, 472, "#000", 43], ["> 6.5 okt.", 11, 483, "#505050", 43], ["> 4.5 okt.", 11, 494, "#a0a0a0", 43],
  ["> 2.5 okt.", 11, 504, "#d8d8d8", 43], ["> 0.1 okt.", 11, 515, "#ffffff", 43], ["Widzialność", 6, 529, "#ff8c00", 57],
  ["Chmury:", 6, 547, "#000", 38], ["wysokie", 11, 561, "#ffffff", 40], ["średnie", 10, 573, "#a0a0a0", 35],
  ["niskie", 10, 585, "#444", 26], ["bardzo niskie", 10, 597, "#333", 61], ["Mgła", 6, 609, "#ffb400", 20],
  ["Czas uniwersalny (UTC)", 6, 625, "#000", 131]
]
legendText.forEach(function (d) {
  label(d[1], d[2], d[0], d[3], 10.5).attr("textLength", d[4]).attr("lengthAdjust", "spacing")
})

// leader lines from the legend to the small panels
var leaders = [
  ["#000", [[66,16],[132,16],[157,46]]],
  ["#a52a2a", [[102,43],[120,43],[160,100]]],
  ["#ff0000", [[92,76],[117,76]]], ["#ff0000", [[130,76],[157,100]]],
  ["#0000e0", [[70,99],[135,99]]],
  ["#6a5acd", [[94,120],[126,120],[136,112]]],
  ["#ff0000", [[103,137],[130,137],[146,146]]],
  ["#e8501a", [[106,152],[111,152]]], ["#e8501a", [[130,152],[146,175]]],
  ["#000", [[104,166],[112,166]]], ["#000", [[128,166],[140,172]]],
  ["#00a000", [[71,179],[139,179]]], ["#00a000", [[80,190],[135,190]]],
  ["#1030c8", [[70,202],[112,202]]], ["#1030c8", [[130,202],[160,171]]],
  ["#1030c8", [[82,213],[130,213],[160,183]]],
  ["#ff0000", [[97,224],[140,224],[146,220]]],
  ["#000", [[52,264],[130,264],[135,262]]],
  ["#ff0000", [[112,334],[118,334]]], ["#ff0000", [[130,334],[138,317]]],
  ["#ff0000", [[108,348],[130,348],[145,340]]],
  [navy, [[92,367],[137,367]]], [navy, [[86,410],[140,410]]],
  ["#a52a2a", [[100,430],[135,430],[183,448]]],
  ["#000", [[58,468],[133,468],[190,457]]],
  ["#505050", [[58,480],[140,480]]],
  ["#a0a0a0", [[57,490],[132,490],[143,502]]],
  ["#d8d8d8", [[57,501],[130,501],[137,506]]],
  ["#87cefa", [[55,510],[135,510]]], ["#87cefa", [[55,512],[135,512]]],
  ["#ff8c00", [[67,527],[130,527],[172,463]]],
  ["#87cefa", [[52,556],[185,556]]], ["#87cefa", [[52,558],[185,558]]],
  ["#a0a0a0", [[49,571],[193,571]]],
  ["#333", [[36,582],[122,582]]], ["#333", [[130,582],[136,582]]],
  ["#333", [[74,594],[135,594],[150,590]]],
  ["#ffb400", [[26,605],[215,605],[219,600]]],
  ["#000", [[139,623],[148,623],[157,611]]]
]
var leaderPath = d3.line()
svg.selectAll(".leader").data(leaders).enter().append("path")
  .attr("d", function (d) { return leaderPath(d[1]) })
  .attr("fill", "none").attr("stroke", function (d) { return d[0] }).attr("stroke-width", 1)
</script>
</body>
</html>
